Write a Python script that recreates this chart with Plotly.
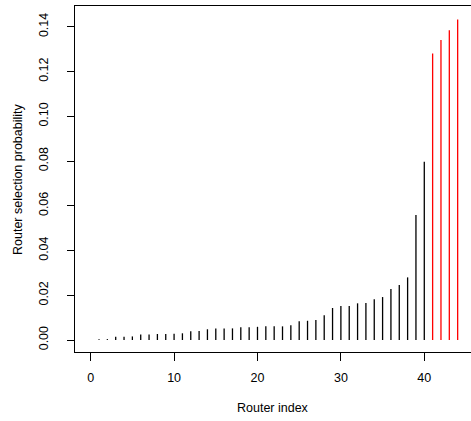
import plotly.graph_objects as go

router_index = list(range(1, 45))
probability = [
    0.0003, 0.0004, 0.0015, 0.0015, 0.0016, 0.0025, 0.0025, 0.0027, 0.0027, 0.0028,
    0.0030, 0.0039, 0.0040, 0.0048, 0.0052, 0.0052, 0.0052, 0.0057, 0.0057, 0.0059,
    0.0061, 0.0061, 0.0061, 0.0066, 0.0084, 0.0086, 0.0089, 0.0111, 0.0143, 0.0152,
    0.0152, 0.0164, 0.0165, 0.0182, 0.0192, 0.0228, 0.0246, 0.0280, 0.0559, 0.0797,
    0.1281, 0.1341, 0.1385, 0.1433,
]
highlight_from = 41  # routers drawn in red
x_ticks = [0, 10, 20, 30, 40]
y_ticks = [0.00, 0.02, 0.04, 0.06, 0.08, 0.10, 0.12, 0.14]
y_tick_text = ["0.00", "0.02", "0.04", "0.06", "0.08", "0.10", "0.12", "0.14"]

fig = go.Figure()

def add_stems(xs, ys, color):
    sx, sy = [], []
    for x, y in zip(xs, ys):
        sx += [x, x, None]
        sy += [0, y, None]
    fig.add_trace(go.Scatter(x=sx, y=sy, mode="lines",
                             line=dict(color=color, width=1.3),
                             hoverinfo="skip", showlegend=False))

bx = [x for x in router_index if x < highlight_from]
by = [p for x, p in zip(router_index, probability) if x < highlight_from]
rx = [x for x in router_index if x >= highlight_from]
ry = [p for x, p in zip(router_index, probability) if x >= highlight_from]
add_stems(bx, by, "black")
add_stems(rx, ry, "#FF0000")

font = dict(family="Liberation Sans, Arial, sans-serif", size=12.5, color="black")

fig.update_layout(
    width=471, height=421,
    margin=dict(l=75, r=0, t=6, b=69),
    paper_bgcolor="white", plot_bgcolor="white",
    font=font,
    xaxis=dict(range=[-1.88, 45.6], tickvals=x_ticks, ticktext=[str(v) for v in x_ticks],
               showgrid=False, zeroline=False, showline=True, linecolor="black",
               linewidth=1, mirror=True, ticks="outside", ticklen=8, tickcolor="black",
               ticklabelstandoff=6),
    yaxis=dict(range=[-0.00536, 0.1493], tickvals=y_ticks, ticktext=y_tick_text,
               tickangle=-90, showgrid=False, zeroline=False, showline=True,
               linecolor="black", linewidth=1, ticks="outside", ticklen=7,
               tickcolor="black", ticklabelstandoff=14),
    annotations=[
        dict(text="Router index", xref="paper", yref="paper", x=0.5, y=-0.162,
             xanchor="center", yanchor="middle", showarrow=False, font=font),
        dict(text="Router selection probability", xref="paper", yref="paper",
             x=(18 - 75) / 396, y=0.5, xanchor="center", yanchor="middle",
             textangle=-90, showarrow=False, font=font),
    ],
)

fig.write_html("out.html")
